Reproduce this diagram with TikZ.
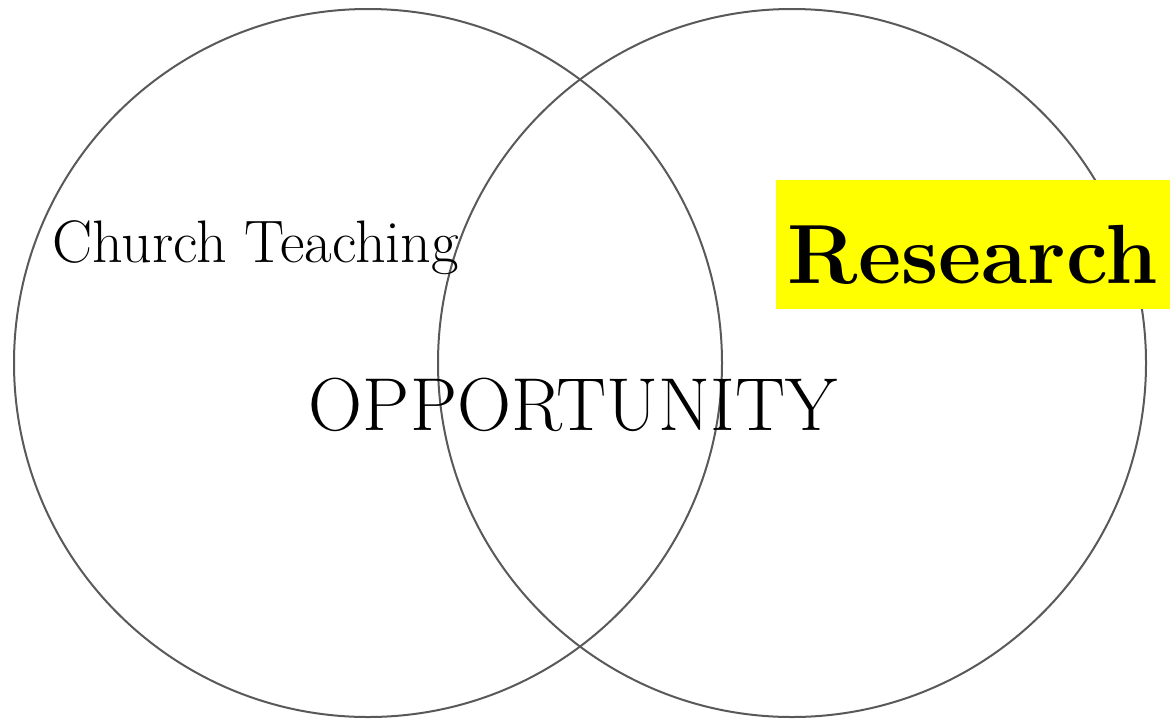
\documentclass[tikz,border=0pt]{standalone}
\definecolor{hiyellow}{RGB}{255,255,0}
\begin{document}
\begin{tikzpicture}[x=1pt,y=-1pt,
  ring/.style={circle, draw=black!65, line width=2pt, minimum size=#1, inner sep=0pt},
  lbl/.style={inner sep=0pt, text=black}]
\useasboundingbox (0,0) rectangle (1172,721);
\node[ring=708pt] (left) at (368,363) {};
\node[ring=708pt] (right) at (792,363) {};
\node[lbl, anchor=base west, font=\fontsize{60}{66}\selectfont] (church) at (52,262) {Church Teaching};
\node[lbl, anchor=base, font=\fontsize{75}{80}\selectfont] (opp) at (573,430) {OPPORTUNITY};
\node[fill=hiyellow, inner sep=0pt, minimum width=394pt, minimum height=129pt, anchor=north west] (rbox) at (776,180) {};
\node[lbl, anchor=base, font=\fontsize{84}{90}\selectfont\bfseries] (research) at (973,283) {Research};
\end{tikzpicture}
\end{document}
